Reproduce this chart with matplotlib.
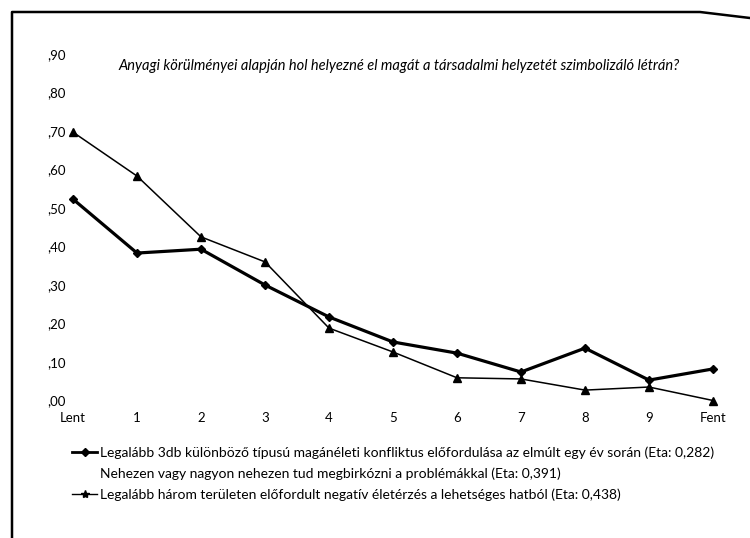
import matplotlib
matplotlib.use("Agg")
import matplotlib.pyplot as plt
from matplotlib.lines import Line2D

plt.rcParams['font.family'] = ['Lato', 'DejaVu Sans']

categories = ["Lent", "1", "2", "3", "4", "5", "6", "7", "8", "9", "Fent"]
conflict = [0.523, 0.383, 0.393, 0.300, 0.217, 0.152, 0.123, 0.074, 0.136, 0.053, 0.082]
negative = [0.697, 0.583, 0.425, 0.360, 0.188, 0.126, 0.059, 0.056, 0.027, 0.035, 0.000]
yticks = [0.0, 0.1, 0.2, 0.3, 0.4, 0.5, 0.6, 0.7, 0.8, 0.9]
ytick_labels = [",00", ",10", ",20", ",30", ",40", ",50", ",60", ",70", ",80", ",90"]
title = "Anyagi körülményei alapján hol helyezné el magát a társadalmi helyzetét szimbolizáló létrán?"
labels = [
    "Legalább 3db különböző típusú magánéleti konfliktus előfordulása az elmúlt egy év során (Eta: 0,282)",
    "Nehezen vagy nagyon nehezen tud megbirkózni a problémákkal (Eta: 0,391)",
    "Legalább három területen előfordult negatív életérzés a lehetséges hatból (Eta: 0,438)",
]

W, H = 750, 538
fig = plt.figure(figsize=(W / 100, H / 100), dpi=100)
ax = fig.add_axes([73 / W, (H - 400.5) / H, 640 / W, 346.5 / H])

x = list(range(len(categories)))
ax.plot(x, conflict, color='black', lw=2.3, marker='D', ms=4.5, clip_on=False, zorder=3)
ax.plot(x, negative, color='black', lw=1.1, marker='^', ms=5.5, clip_on=False, zorder=2)

ax.set_xlim(0, len(categories) - 1)
ax.set_ylim(0, 0.9)
ax.set_yticks(yticks)
ax.set_yticklabels(ytick_labels)
ax.set_xticks(x)
ax.set_xticklabels(categories)
for s in ax.spines.values():
    s.set_visible(False)
ax.tick_params(axis='both', length=0, labelsize=9.5)
ax.tick_params(axis='y', pad=5)
ax.tick_params(axis='x', pad=8)

fig.text(399 / W, 1 - 66 / H, title, ha='center', va='center', style='italic', fontsize=10.5)

handles = [
    Line2D([], [], color='black', lw=2.0, marker='D', ms=4),
    Line2D([], [], color='none', lw=0),
    Line2D([], [], color='black', lw=1.0, marker='*', ms=6),
]
fig.legend(handles, labels, loc='upper left', bbox_to_anchor=(72 / W, 1 - 446 / H),
           frameon=False, fontsize=10.0, handlelength=1.8, handletextpad=0.2,
           labelspacing=0.62, borderpad=0, borderaxespad=0)

frame = Line2D([12 / W, 12 / W, 700 / W, 750 / W],
               [0, 1 - 12 / H, 1 - 12 / H, 1 - 18 / H],
               color='black', lw=1.8, transform=fig.transFigure)
fig.add_artist(frame)

fig.savefig("out.png", dpi=100)
